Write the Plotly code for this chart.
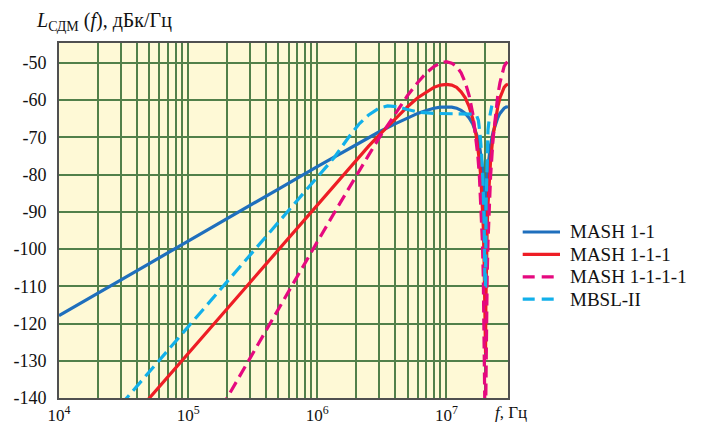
import plotly.graph_objects as go

# ---- data ----
freq_mash = [1e4, 2e4, 5e4, 1e5, 2e5, 5e5, 1e6, 1.5e6, 2e6, 2.5e6, 3e6, 4e6, 5e6, 6e6, 7e6,
             8e6, 9e6, 1e7, 1.1e7, 1.2e7, 1.3e7, 1.4e7, 1.5e7, 1.6e7, 1.7e7, 1.75e7, 1.8e7,
             1.85e7, 1.9e7, 1.93e7, 1.96e7, 1.98e7, 1.99e7, 2.01e7, 2.02e7, 2.04e7, 2.07e7,
             2.1e7, 2.15e7, 2.2e7, 2.3e7, 2.4e7, 2.5e7, 2.6e7, 2.7e7, 2.8e7, 2.9e7, 3.0e7]

mash_11 = [-117.9, -111.8, -103.9, -97.9, -91.8, -83.9, -77.9, -74.4, -72.0, -70.1, -68.6,
           -66.4, -64.8, -63.6, -62.8, -62.2, -61.9, -61.8, -61.9, -62.2, -62.8, -63.6, -64.8,
           -66.4, -68.6, -70.1, -72.0, -74.4, -77.9, -81.0, -85.8, -91.8, -97.9, -97.9, -91.8,
           -85.8, -81.0, -77.9, -74.4, -72.0, -68.6, -66.4, -64.8, -63.6, -62.8, -62.2, -61.9, -61.8]

mash_111 = [-167.9, -155.9, -140.0, -127.9, -115.9, -100.0, -88.0, -81.0, -76.2, -72.4, -69.5,
            -65.0, -61.8, -59.4, -57.8, -56.6, -56.0, -55.8, -56.0, -56.6, -57.8, -59.4, -61.8,
            -65.0, -69.5, -72.4, -76.2, -81.0, -88.0, -94.1, -103.8, -115.9, -127.9, -127.9, -115.9,
            -103.8, -94.1, -88.0, -81.0, -76.2, -69.5, -65.0, -61.8, -59.4, -57.8, -56.6, -56.0, -55.8]

mash_1111 = [-218.0, -199.9, -176.0, -158.0, -139.9, -116.1, -98.1, -87.7, -80.3, -74.8, -70.3,
             -63.6, -58.8, -55.3, -52.7, -51.0, -50.1, -49.7, -50.1, -51.0, -52.7, -55.3, -58.8,
             -63.6, -70.3, -74.8, -80.3, -87.7, -98.1, -107.3, -121.9, -139.9, -158.0, -158.0, -139.9,
             -121.9, -107.3, -98.1, -87.7, -80.3, -70.3, -63.6, -58.8, -55.3, -52.7, -51.0, -50.1, -49.7]

freq_mbsl = [3e4, 1e5, 3e5, 1e6, 1.35e6, 1.75e6, 2.1e6, 2.5e6, 3.0e6, 3.5e6, 4.2e6, 4.9e6, 6.2e6,
             8e6, 1e7, 1.2e7, 1.45e7, 1.65e7, 1.72e7, 1.77e7, 1.82e7, 1.87e7, 1.92e7, 1.96e7,
             1.99e7, 2.01e7, 2.03e7, 2.06e7, 2.1e7, 2.15e7, 2.2e7, 2.25e7]
mbsl_2 = [-141.9, -121.0, -101.9, -81.0, -75.5, -70.0, -66.5, -64.0, -62.2, -61.6, -61.8, -62.5,
          -63.3, -63.6, -63.7, -63.7, -63.7, -63.8, -64.3, -65.5, -69.0, -74.0, -82.0, -93.0,
          -110.0, -110.0, -88.0, -75.0, -68.0, -65.0, -62.8, -61.5]

series_names = ["MASH 1-1", "MASH 1-1-1", "MASH 1-1-1-1", "MBSL-II"]
y_ticks = [-50, -60, -70, -80, -90, -100, -110, -120, -130, -140]
x_decades = [1e4, 1e5, 1e6, 1e7]
x_decade_labels = ["10<sup>4</sup>", "10<sup>5</sup>", "10<sup>6</sup>", "10<sup>7</sup>"]

FONT = "Liberation Serif"
OFF = 8                      # page body margin offset
W, H = 703 - OFF, 422 - OFF
ML, MR, MT, MB = 59 - OFF, 195, 43 - OFF, 24
PW, PH = W - ML - MR, H - MT - MB


def px(x):
    """page pixel x -> paper coordinate"""
    return (x - OFF - ML) / PW


def py(y):
    """page pixel y -> paper coordinate"""
    return (OFF + MT + PH - y) / PH


fig = go.Figure()
styles = [
    dict(color="#1f6fbd", width=3.2, dash="solid"),
    dict(color="#ee1d25", width=3.2, dash="solid"),
    dict(color="#e5097f", width=3.2, dash="12px,6px"),
    dict(color="#12b0ea", width=3.2, dash="13px,6px"),
]
for name, xs, ys, st in zip(series_names,
                            [freq_mash, freq_mash, freq_mash, freq_mbsl],
                            [mash_11, mash_111, mash_1111, mbsl_2], styles):
    fig.add_trace(go.Scatter(x=xs, y=ys, mode="lines", name=name, line=st, showlegend=False))

# manual legend (line sample + label)
leg_y = [232, 254.3, 276.8, 299.2]
for name, st, yy in zip(series_names, styles, leg_y):
    fig.add_shape(type="line", xref="paper", yref="paper", x0=px(522.7), x1=px(560),
                  y0=py(yy), y1=py(yy),
                  line=dict(color=st["color"], width=3.2,
                            dash="solid" if st["dash"] == "solid" else "12px,7px"))
    fig.add_annotation(xref="paper", yref="paper", x=px(568), y=py(yy), xanchor="left",
                       yanchor="middle", text=name, showarrow=False,
                       font=dict(family=FONT, size=19, color="#111"))

# grid ticks at every 1..9 x decade
xt, xl = [], []
for d, lab in zip(x_decades, x_decade_labels):
    for k in range(1, 10):
        v = k * d
        if v <= 3.0e7 * 1.0001:
            xt.append(v)
            xl.append(lab if k == 1 else "")

GRID = "#52804a"
fig.update_xaxes(type="log", range=[4, 7.4771], tickvals=xt, ticktext=xl, automargin=False,
                 showgrid=True, gridcolor=GRID, gridwidth=1.7, zeroline=False,
                 showline=True, mirror=True, linecolor="#505050", linewidth=2,
                 ticks="", ticklabelstandoff=1, tickfont=dict(family=FONT, size=17, color="#111"))
fig.update_yaxes(range=[-140, -44.7], tickvals=y_ticks, ticktext=[f"-{abs(v)}" for v in y_ticks],
                 automargin=False,
                 showgrid=True, gridcolor=GRID, gridwidth=1.7, zeroline=False,
                 showline=True, mirror=True, linecolor="#505050", linewidth=2,
                 ticks="", ticklabelstandoff=7, tickfont=dict(family=FONT, size=18, color="#111"))

fig.add_annotation(xref="paper", yref="paper", x=px(493), y=py(412), xanchor="left", yanchor="middle",
                   text="<i>f</i>, Гц", showarrow=False, font=dict(family=FONT, size=17, color="#111"))
fig.add_annotation(xref="paper", yref="paper", x=px(34), y=py(21), xanchor="left", yanchor="middle",
                   text="<i>L</i><sub>СДМ</sub> (<i>f</i>), дБк/Гц", showarrow=False,
                   font=dict(family=FONT, size=20, color="#111"))

fig.update_layout(
    width=W, height=H,
    margin=dict(l=ML, r=MR, t=MT, b=MB, autoexpand=False),
    paper_bgcolor="white", plot_bgcolor="#fef9d6",
    showlegend=False,
)
fig.write_html("out.html")
